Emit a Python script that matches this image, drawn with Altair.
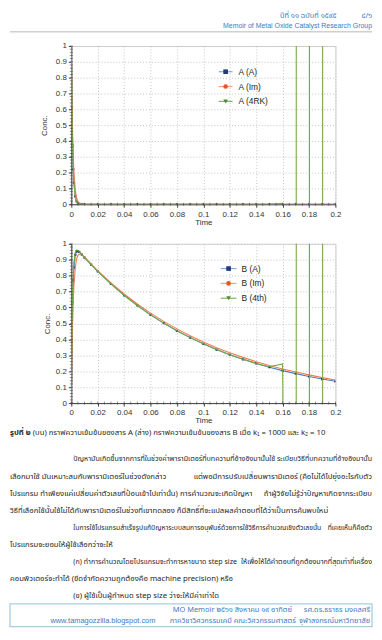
import altair as alt
import pandas as pd

# ---------------- data ----------------
series_a = ["A (A)", "A (Im)", "A (4RK)"]
series_b = ["B (A)", "B (Im)", "B (4th)"]

t_a = [0, 0.0005, 0.001, 0.0015, 0.002, 0.003, 0.004, 0.005, 0.006, 0.008, 0.01,
       0.02, 0.03, 0.04, 0.05, 0.06, 0.07, 0.08, 0.09, 0.1, 0.11, 0.12, 0.13, 0.14,
       0.15, 0.16, 0.17, 0.18, 0.19, 0.2]
a_exact = [1, 0.61, 0.37, 0.22, 0.135, 0.05, 0.018, 0.007, 0.0025, 0.0003, 0.00005,
           0, 0, 0, 0, 0, 0, 0, 0, 0, 0, 0, 0, 0,
           0, 0, 0, 0, 0, 0]
a_im = [1, 0.67, 0.45, 0.30, 0.20, 0.09, 0.04, 0.018, 0.008, 0.0016, 0.0003,
        0, 0, 0, 0, 0, 0, 0, 0, 0, 0, 0, 0, 0,
        0, 0, 0, 0, 0, 0]
a_rk = [1, 0.60, 0.36, 0.21, 0.13, 0.045, 0.015, 0.005, 0.0018, 0.0002, 0.00003,
        0, 0, 0, 0, 0, 0, 0, 0, 0, 0, 0, 0, 0,
        0, 0.006, -10, 300, -9000, 270000]

t_b = [0, 0.0005, 0.001, 0.0015, 0.002, 0.003, 0.004, 0.005, 0.006, 0.008, 0.01, 0.015,
       0.02, 0.03, 0.04, 0.05, 0.06, 0.07, 0.08, 0.09, 0.1, 0.11, 0.12, 0.13, 0.14,
       0.15, 0.16, 0.17, 0.18, 0.19, 0.2]
b_exact = [0, 0.39, 0.63, 0.77, 0.85, 0.93, 0.952, 0.954, 0.949, 0.932, 0.914, 0.869,
           0.827, 0.748, 0.677, 0.613, 0.554, 0.502, 0.454, 0.411, 0.372, 0.336, 0.304,
           0.275, 0.249, 0.225, 0.204, 0.185, 0.167, 0.151, 0.137]
b_im = [0, 0.30, 0.50, 0.64, 0.74, 0.85, 0.905, 0.928, 0.936, 0.932, 0.918, 0.874,
        0.832, 0.755, 0.685, 0.622, 0.565, 0.513, 0.466, 0.423, 0.384, 0.348, 0.316,
        0.287, 0.260, 0.236, 0.214, 0.195, 0.177, 0.160, 0.145]
b_rk = [0, 0.45, 0.70, 0.83, 0.89, 0.945, 0.962, 0.959, 0.951, 0.933, 0.914, 0.869,
        0.827, 0.748, 0.677, 0.613, 0.554, 0.502, 0.454, 0.411, 0.372, 0.336, 0.304,
        0.275, 0.249, 0.228, 0.246, -10, 300, -9000, 270000]

x_ticks = [0, 0.02, 0.04, 0.06, 0.08, 0.1, 0.12, 0.14, 0.16, 0.18, 0.2]
y_ticks = [0, 0.1, 0.2, 0.3, 0.4, 0.5, 0.6, 0.7, 0.8, 0.9, 1]
x_minor = [i / 200 for i in range(41)]
y_minor = [i / 50 for i in range(51)]

header_issue = "ปีที่ ๑๑ ฉบับที่ ๑๕๙๕"
header_page = "๔/๖"
header_group = "Memoir of Metal Oxide Catalyst Research Group"
caption_bold = "รูปที่ ๒"
caption_rest = "(บน) กราฟความเข้มข้นของสาร A  (ล่าง) กราฟความเข้มข้นของสาร B เมื่อ k₁ = 1000 และ k₂ = 10"
body_lines = [
    ("ปัญหามันเกิดขึ้นจากการที่ในช่วงค่าพารามิเตอร์ที่บทความที่อ้างอิงมานั้นใช้", "ระเบียบวิธีที่บทความที่อ้างอิงมานั้น"),
    ("เลือกมาใช้  มันเหมาะสมกับพารามิเตอร์ในช่วงดังกล่าว", "แต่พอมีการปรับเปลี่ยนพารามิเตอร์ (คือไม่ได้ไปยุ่งอะไรกับตัว"),
    ("โปรแกรม ทำเพียงแค่เปลี่ยนค่าตัวเลขที่ป้อนเข้าไปเท่านั้น)  การคำนวณจะเกิดปัญหา", "ถ้าผู้วิจัยไม่รู้ว่าปัญหาเกิดจากระเบียบ"),
    ("วิธีที่เลือกใช้นั้นใช้ไม่ได้กับพารามิเตอร์ในช่วงที่เขาทดลอง  ก็มีสิทธิ์ที่จะแปลผลคำตอบที่ได้ว่าเป็นการค้นพบใหม่", ""),
    ("ในการใช้โปรแกรมสำเร็จรูปแก้ปัญหาระบบสมการอนุพันธ์ด้วยการใช้วิธีการคำนวณเชิงตัวเลขนั้น", "ที่เคยเห็นก็คือตัว"),
    ("โปรแกรมจะยอมให้ผู้ใช้เลือกว่าจะให้", ""),
    ("(ก) ทำการคำนวณโดยโปรแกรมจะทำการหาขนาด step size", "ให้เพื่อให้ได้คำตอบที่ถูกต้องมากที่สุดเท่าที่เครื่อง"),
    ("คอมพิวเตอร์จะทำได้ (ขีดจำกัดความถูกต้องคือ machine precision) หรือ", ""),
    ("(ข) ผู้ใช้เป็นผู้กำหนด step size ว่าจะให้มีค่าเท่าใด", ""),
]
footer_l1 = ["MO Memoir ๒๕๖๑ สิงหาคม ๑๙ อาทิตย์", "รศ.ดร.ธราธร   มงคลศรี"]
footer_l2 = ["www.tamagozzilla.blogspot.com", "ภาควิชาวิศวกรรมเคมี คณะวิศวกรรมศาสตร์", "จุฬาลงกรณ์มหาวิทยาลัย"]

# ---------------- styles / layout ----------------
LINE_COLORS = ["#4a7ebb", "#f07d52", "#77a843"]
LEG_LINE_COLORS = ["#86a9d6", "#f4a585", "#86b55a"]
MARKER_COLORS = ["#1f3b73", "#f0521e", "#4e8d2b"]
SHAPES = ["square", "circle", "triangle-down"]
SANS = "Liberation Sans, Arial, sans-serif"
THAI = "Noto Sans Thai, Tahoma, Garuda, Loma, sans-serif"
W = 267
LEFT = -62
RIGHT = 304
BODY = "#262626"
BLUE = "#3f78c0"


def txt(s, x, y, size, color, align="left", weight="normal", font=THAI):
    return alt.Chart(pd.DataFrame({"s": [s]})).mark_text(
        align=align, baseline="middle", fontSize=size, color=color,
        font=font, fontWeight=weight
    ).encode(x=alt.value(x), y=alt.value(y), text="s:N")


def plot_panel(t, vals, names, h, conc_pad, leg):
    xs = alt.Scale(domain=[0, 0.2], nice=False, zero=False)
    ys = alt.Scale(domain=[0, 1], nice=False, zero=False)
    common = dict(labelFont=SANS, titleFont=SANS, labelFontSize=8, titleFontSize=8,
                  titleFontWeight="normal", labelColor="#333333", titleColor="#333333",
                  domainColor="#404040", tickColor="#404040", tickSize=3,
                  grid=True, gridDash=[1, 2], gridColor="#c4c4c4", format="~g",
                  labelOverlap=False)
    xax = alt.Axis(values=x_ticks, title="Time", labelFlush=False, labelPadding=3,
                   titlePadding=0, **common)
    yax = alt.Axis(values=y_ticks, title="Conc.", labelPadding=2,
                   titlePadding=conc_pad, **common)
    xenc = alt.X("t:Q", scale=xs, axis=xax)
    yenc = alt.Y("v:Q", scale=ys, axis=yax)

    layers = []
    for i, (name, v) in enumerate(zip(names, vals)):
        df = pd.DataFrame({"t": t, "v": v, "s": name})
        layers.append(alt.Chart(df).mark_line(clip=True, strokeWidth=1.1,
                                              color=LINE_COLORS[i]).encode(x=xenc, y=yenc))
        if i == 0:
            layers.append(alt.Chart(df).mark_point(clip=True, shape="square", filled=True,
                                                   size=5, color=MARKER_COLORS[0],
                                                   opacity=1).encode(x=xenc, y=yenc))
    layers.append(alt.Chart(pd.DataFrame({"t": x_minor})).mark_tick(
        orient="vertical", size=3, thickness=0.8, color="#404040").encode(x=xenc, y=alt.value(h)))
    layers.append(alt.Chart(pd.DataFrame({"v": y_minor})).mark_tick(
        orient="horizontal", size=3, thickness=0.8, color="#404040").encode(y=yenc, x=alt.value(0)))

    ly0, lstep, lx0, lx1, ltx = leg
    ldf = pd.DataFrame({"s": names})
    ly = alt.Y("s:N", scale=alt.Scale(type="point", domain=names,
                                      range=[ly0, ly0 + 2 * lstep], padding=0), axis=None)
    legend = alt.layer(
        alt.Chart(ldf).mark_rule(strokeWidth=1.2).encode(
            x=alt.value(lx0), x2=alt.value(lx1), y=ly,
            color=alt.Color("s:N", scale=alt.Scale(domain=names, range=LEG_LINE_COLORS), legend=None)),
        alt.Chart(ldf).mark_point(filled=True, size=22, opacity=1).encode(
            x=alt.value((lx0 + lx1) / 2), y=ly,
            shape=alt.Shape("s:N", scale=alt.Scale(domain=names, range=SHAPES), legend=None),
            fill=alt.Fill("s:N", scale=alt.Scale(domain=names, range=MARKER_COLORS), legend=None)),
        alt.Chart(ldf).mark_text(align="left", baseline="middle", fontSize=8.5, font=SANS,
                                 color="#262626").encode(x=alt.value(ltx), y=ly, text="s:N"),
    )
    return layers, legend


# ---- panel A with header ----
layA, legA = plot_panel(t_a, [a_exact, a_im, a_rk], series_a, 160, 7, (26, 15, 149, 163, 169))
layA += [
    txt(header_issue, 268, -30, 7.5, BLUE, align="right"),
    txt(header_page, RIGHT, -30, 7.5, BLUE, align="right"),
    txt(header_group, RIGHT, -20.5, 7, BLUE, align="right", font=SANS),
    alt.Chart(pd.DataFrame({"a": [0]})).mark_rule(color="#d0d0d0", strokeWidth=1.5).encode(
        x=alt.value(LEFT), x2=alt.value(RIGHT), y=alt.value(-14.5)),
]
panelA = alt.layer(alt.layer(*layA), legA).resolve_scale(y="independent").properties(width=W, height=160)

# ---- panel B with body ----
layB, legB = plot_panel(t_b, [b_exact, b_im, b_rk], series_b, 161, 4, (25, 15, 151, 167, 172))
BFS = 7.8
line_y = [218, 236, 253, 270, 287, 304, 322, 339, 356]
line_fs = [7.2, BFS, BFS, BFS, 6.9, BFS, 7.2, BFS, BFS]
indent = [True, False, False, False, True, False, True, False, True]
layB += [
    txt(caption_bold, LEFT, 191, BFS, BODY, weight="bold"),
    txt(caption_rest, LEFT + 23, 191, BFS, BODY),
]
for (lft, rgt), yy, ind, fs in zip(body_lines, line_y, indent, line_fs):
    layB.append(txt(lft, 2 if ind else LEFT, yy, fs, BODY))
    if rgt:
        layB.append(txt(rgt, RIGHT, yy, fs, BODY, align="right"))
layB += [
    alt.Chart(pd.DataFrame({"a": [0]})).mark_rect(fillOpacity=0, stroke="#a9cde0", strokeWidth=1.3).encode(
        x=alt.value(LEFT), x2=alt.value(RIGHT), y=alt.value(364), y2=alt.value(387)),
    txt(footer_l1[0], 223, 370, 7.5, BLUE, align="right"),
    txt(footer_l1[1], RIGHT - 2, 370, 7.5, BLUE, align="right"),
    txt(footer_l2[0], 85, 381, 7.5, BLUE, align="right", font=SANS),
    txt(footer_l2[1], 227, 381, 7.5, BLUE, align="right"),
    txt(footer_l2[2], RIGHT - 2, 381, 7.5, BLUE, align="right"),
]
panelB = alt.layer(alt.layer(*layB), legB).resolve_scale(y="independent").properties(width=W, height=161)

chart = alt.vconcat(panelA, panelB, spacing=12).properties(padding=0).configure_view(
    stroke="#d0d0d0", strokeWidth=1)

chart.save("out.html", embed_options={"renderer": "svg", "actions": False})
